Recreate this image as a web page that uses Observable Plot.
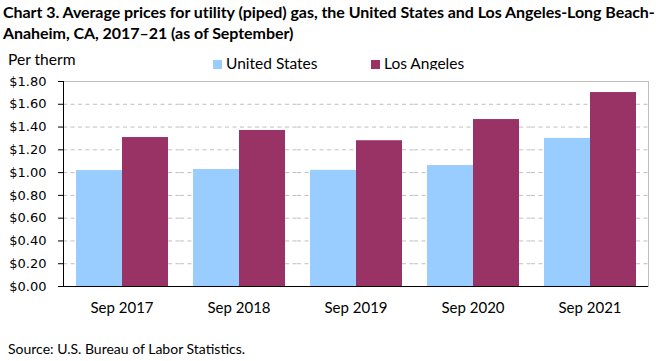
<!DOCTYPE html>
<html><head><meta charset="utf-8">
<script src="https://cdn.jsdelivr.net/npm/d3@7"></script>
<script src="https://cdn.jsdelivr.net/npm/@observablehq/plot@0.6"></script>
<style>
body{margin:0;background:#fff;width:661px;height:361px;position:relative;overflow:hidden;font-family:Lato,sans-serif;color:#000}
#title{position:absolute;left:3px;top:1px;font-weight:bold;font-size:16px;line-height:21px;white-space:nowrap;letter-spacing:-0.05px}
#unit{position:absolute;left:8px;top:50px;font-size:15.6px}
.leg{position:absolute;top:54px;font-size:15.5px;white-space:nowrap}
.sw{display:inline-block;width:9px;height:9px;margin-right:4px;vertical-align:0px}
#chart{position:absolute;left:0;top:70px}
#source{position:absolute;left:8px;top:340px;font-size:14px}
</style></head><body>
<div id="title">Chart 3. Average prices for utility (piped) gas, the United States and Los Angeles-Long Beach-<br>Anaheim, CA, 2017–21 (as of September)</div>
<div id="unit">Per therm</div>
<div id="legend"></div>
<div id="chart"></div>
<div id="source">Source: U.S. Bureau of Labor Statistics.</div>
<script>
const periods = ["Sep 2017", "Sep 2018", "Sep 2019", "Sep 2020", "Sep 2021"];
const series = ["United States", "Los Angeles"];
const usValues = [1.018, 1.027, 1.02, 1.062, 1.30];
const laValues = [1.308, 1.37, 1.28, 1.466, 1.703];
const yTicks = [0, 0.2, 0.4, 0.6, 0.8, 1.0, 1.2, 1.4, 1.6, 1.8];
const colors = ["#99ccff", "#993366"];

const data = periods.flatMap((p, i) => [
  {period: p, series: series[0], value: usValues[i]},
  {period: p, series: series[1], value: laValues[i]}
]);

const legend = document.getElementById("legend");
const legendX = [213, 371];
series.forEach((s, i) => {
  const d = document.createElement("div");
  d.className = "leg";
  d.style.left = legendX[i] + "px";
  d.innerHTML = `<span class="sw" style="background:${colors[i]}"></span>${s}`;
  legend.appendChild(d);
});

const chart = Plot.plot({
  width: 661,
  height: 265,
  marginTop: 11,
  marginLeft: 62,
  marginRight: 12,
  marginBottom: 49,
  style: {fontFamily: "Lato, sans-serif", background: "#fff"},
  fx: {domain: periods, padding: 0, label: null, axis: null},
  x: {domain: series, axis: null, paddingInner: 0, paddingOuter: 0.25},
  y: {domain: [0, 1.8], axis: null},
  color: {domain: series, range: colors},
  marks: [
    Plot.ruleY(yTicks.slice(1, -1), {stroke: "#bfbfbf", strokeDasharray: "4,3.5"}),
    Plot.ruleY(yTicks.slice(-1), {stroke: "#bfbfbf"}),
    Plot.barY(data, {fx: "period", x: "series", y: "value", fill: "series"}),
    Plot.frame({anchor: "right", facetAnchor: "right", stroke: "#bfbfbf"}),
    Plot.ruleY([0], {stroke: "#000"}),
    Plot.frame({anchor: "left", facetAnchor: "left", stroke: "#000"}),
    Plot.axisY({ticks: yTicks, tickFormat: d => "$" + d.toFixed(2), tickSize: 5, tickPadding: 12, label: null, fontSize: 13, fontFamily: "DejaVu Sans", color: "#000"}),
    Plot.axisFx({anchor: "bottom", tickSize: 0, tickPadding: 16, label: null, fontSize: 15, color: "#000"})
  ]
});
document.getElementById("chart").appendChild(chart);
</script>
</body></html>
